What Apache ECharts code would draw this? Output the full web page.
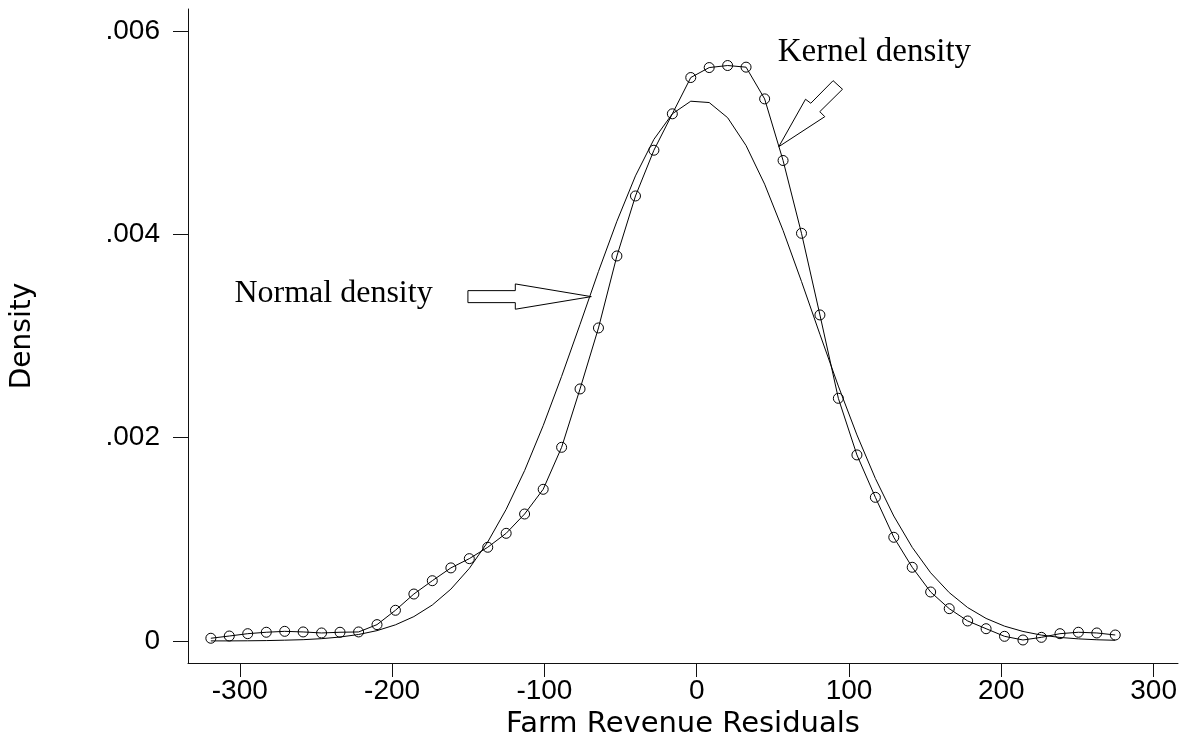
<!DOCTYPE html>
<html>
<head>
<meta charset="utf-8">
<script src="https://cdn.jsdelivr.net/npm/echarts@6/dist/echarts.min.js"></script>
<style>
html,body{margin:0;padding:0;background:#fff;}
#chart{width:1187px;height:733px;}
</style>
</head>
<body>
<div id="chart"></div>
<script>
// Evaluation grid (x) for both density estimates
const xGrid = [-319.0,-306.9,-294.8,-282.6,-270.5,-258.4,-246.3,-234.2,-222.0,-209.9,
  -197.8,-185.7,-173.6,-161.4,-149.3,-137.2,-125.1,-113.0,-100.8,-88.7,
  -76.6,-64.5,-52.4,-40.2,-28.1,-16.0,-3.9,8.2,20.3,32.4,
  44.6,56.7,68.8,80.9,93.0,105.2,117.3,129.4,141.5,153.6,
  165.8,177.9,190.0,202.1,214.2,226.3,238.5,250.6,262.7,274.8];

// Kernel density (circles)
const kernelDensity = [0.000027,0.000049,0.000072,0.000086,0.000095,0.000089,0.000079,0.000086,0.000089,0.000161,
  0.000302,0.000462,0.000593,0.000719,0.000810,0.000922,0.001059,0.001249,0.001492,0.001905,
  0.002479,0.003079,0.003787,0.004377,0.004827,0.005185,0.005542,0.005640,0.005660,0.005644,
  0.005332,0.004726,0.004010,0.003207,0.002387,0.001830,0.001413,0.001020,0.000725,0.000482,
  0.000318,0.000197,0.000121,0.000046,0.000010,0.000036,0.000072,0.000086,0.000079,0.000059];

// Normal density (plain line)
const normalDensity = [0.000001,0.000001,0.000002,0.000004,0.000008,0.000013,0.000023,0.000039,0.000064,0.000102,
  0.000159,0.000240,0.000354,0.000510,0.000714,0.000974,0.001295,0.001676,0.002118,0.002603,
  0.003114,0.003635,0.004128,0.004575,0.004934,0.005185,0.005309,0.005296,0.005147,0.004873,
  0.004493,0.004038,0.003536,0.003016,0.002507,0.002027,0.001599,0.001229,0.000921,0.000671,
  0.000476,0.000329,0.000222,0.000146,0.000094,0.000058,0.000035,0.000021,0.000012,0.000007];

const xTicks = [-300,-200,-100,0,100,200,300];
const xTickLabels = ['-300','-200','-100','0','100','200','300'];
const yTicks = [0,0.002,0.004,0.006];
const yTickLabels = ['0','.002','.004','.006'];

const xTitle = 'Farm Revenue Residuals';
const yTitle = 'Density';
const normalLabel = 'Normal density';
const kernelLabel = 'Kernel density';

const kernelPts = xGrid.map((x,i)=>[x,kernelDensity[i]]);
const normalPts = xGrid.map((x,i)=>[x,normalDensity[i]]);

const chart = echarts.init(document.getElementById('chart'), null, {renderer:'canvas'});
const sans = "'Liberation Sans', Arial, sans-serif";
const serif = "'Liberation Serif', 'Times New Roman', serif";

chart.setOption({
  animation:false,
  backgroundColor:'#fff',
  grid:{left:188,right:9,top:9,bottom:70,containLabel:false,outerBoundsMode:'none'},
  xAxis:{
    type:'value', min:-334, max:316,
    name:xTitle, nameLocation:'middle', nameGap:41,
    nameTextStyle:{fontFamily:"'DejaVu Sans', sans-serif", fontSize:29, color:'#000'},
    axisLine:{onZero:false, lineStyle:{color:'#111', width:1}},
    axisTick:{show:true, length:14, inside:false, customValues:xTicks, lineStyle:{color:'#111'}},
    axisLabel:{show:true, margin:14, customValues:xTicks, fontFamily:sans, fontSize:28, color:'#000',
      formatter:(v)=>{const i=xTicks.indexOf(v); return i>=0?xTickLabels[i]:'';}},
    splitLine:{show:false}
  },
  yAxis:{
    type:'value', min:-0.0002164, max:0.006216,
    name:yTitle, nameLocation:'middle', nameGap:151, nameRotate:90,
    nameTextStyle:{fontFamily:"'DejaVu Sans', sans-serif", fontSize:28, color:'#000'},
    axisLine:{show:true, onZero:false, lineStyle:{color:'#111', width:1}},
    axisTick:{show:true, length:15, inside:false, customValues:yTicks, lineStyle:{color:'#111'}},
    axisLabel:{show:true, margin:28, customValues:yTicks, fontFamily:sans, fontSize:28, color:'#000',
      formatter:(v)=>{let best=0; yTicks.forEach((t,i)=>{if(Math.abs(t-v)<Math.abs(yTicks[best]-v)) best=i;}); return yTickLabels[best];}},
    splitLine:{show:false}
  },
  series:[
    {
      name:'Normal density', type:'line', data:normalPts, showSymbol:false, symbol:'none',
      lineStyle:{color:'#000', width:1}, smooth:false, z:2, silent:true
    },
    {
      name:'Kernel density', type:'line', data:kernelPts, symbol:'circle', symbolSize:10, showAllSymbol:true,
      itemStyle:{color:'rgba(255,255,255,0)', borderColor:'#000', borderWidth:1},
      lineStyle:{color:'#000', width:1}, smooth:false, z:3, silent:true
    }
  ]
});

// Annotation anchors in data coordinates (arrow tips on curves, text anchors)
const normalArrowTip = [-69.2, 0.003387];
const kernelArrowTip = [53.9, 0.004862];
const normalTextAnchor = [-303.5, 0.003305];
const kernelTextAnchor = [53.2, 0.005685];

function px(p){return chart.convertToPixel({gridIndex:0}, p);}
const nt = px(normalArrowTip), kt = px(kernelArrowTip);
const na = px(normalTextAnchor), ka = px(kernelTextAnchor);
const normalArrowShape = [[0,0],[-76,-12.7],[-76,-6],[-123.4,-6],[-123.4,6],[-76,6],[-76,12.6]];
const kernelArrowShape = [[0,0],[26.7,-47.4],[32,-43.4],[54.3,-66],[63.7,-57.4],[41,-35],[46,-30]];

chart.setOption({
  graphic:[
    {type:'polygon', shape:{points:normalArrowShape.map(p=>[nt[0]+p[0], nt[1]+p[1]])},
      style:{fill:'#fff', stroke:'#000', lineWidth:1}, z:10},
    {type:'polygon', shape:{points:kernelArrowShape.map(p=>[kt[0]+p[0], kt[1]+p[1]])},
      style:{fill:'#fff', stroke:'#000', lineWidth:1}, z:10},
    {type:'text', x:na[0], y:na[1]-11, style:{text:normalLabel, font:"32px "+serif, fill:'#000', textAlign:'left', textVerticalAlign:'middle'}, z:10},
    {type:'text', x:ka[0], y:ka[1]-11, style:{text:kernelLabel, font:"33px "+serif, fill:'#000', textAlign:'left', textVerticalAlign:'middle'}, z:10}
  ]
});
</script>
</body>
</html>
